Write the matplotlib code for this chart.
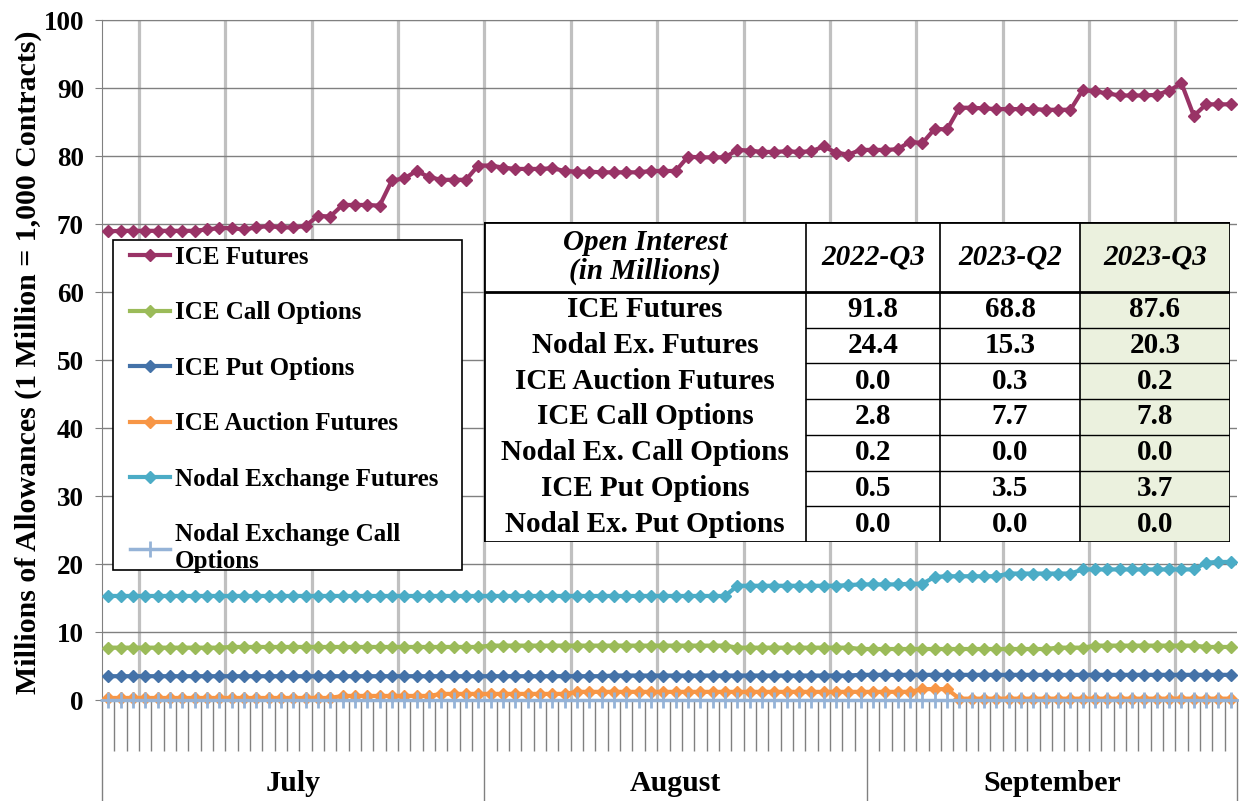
import matplotlib.pyplot as plt
from matplotlib.patches import Rectangle
from matplotlib.transforms import blended_transform_factory

plt.rcParams['font.family'] = ['Liberation Serif', 'DejaVu Serif']
plt.rcParams['font.weight'] = 'bold'

# daily open interest, July 1 - Sept 30 (millions)
ice_futures = [
    68.9, 69.0, 69.0, 69.0, 69.0, 69.0, 69.0, 69.0, 69.2, 69.4, 69.4, 69.2, 69.5, 69.7, 69.5, 69.5,
    69.7, 71.2, 71.1, 72.8, 72.8, 72.8, 72.7, 76.4, 76.7, 77.8, 76.9, 76.5, 76.5, 76.5, 78.6,
    78.6, 78.3, 78.1, 78.1, 78.1, 78.2, 77.8, 77.7, 77.7, 77.6, 77.6, 77.6, 77.6, 77.8, 77.8,
    77.8, 79.9, 79.8, 79.8, 79.8, 80.9, 80.8, 80.6, 80.6, 80.7, 80.6, 80.7, 81.4, 80.5, 80.2,
    80.9, 80.9, 80.9, 81.0, 82.1, 81.9, 84.0, 83.9, 87.1, 87.1, 87.0, 86.9, 86.9, 86.9, 86.9,
    86.8, 86.8, 86.8, 89.7, 89.5, 89.2, 88.9, 88.9, 88.9, 89.0, 89.6, 90.7, 85.9, 87.6, 87.6, 87.6,
]
ice_call = [
    7.7, 7.7, 7.7, 7.7, 7.7, 7.7, 7.7, 7.7, 7.7, 7.7, 7.8, 7.8, 7.8, 7.8, 7.8, 7.8,
    7.8, 7.8, 7.8, 7.8, 7.8, 7.8, 7.8, 7.8, 7.8, 7.8, 7.8, 7.8, 7.8, 7.8, 7.8,
    8.0, 8.0, 8.0, 8.0, 8.0, 8.0, 8.0, 8.0, 8.0, 8.0, 8.0, 8.0, 8.0, 8.0, 8.0,
    8.0, 8.0, 8.0, 8.0, 8.0, 7.7, 7.7, 7.7, 7.7, 7.7, 7.7, 7.7, 7.7, 7.7, 7.7,
    7.5, 7.5, 7.5, 7.5, 7.5, 7.5, 7.5, 7.5, 7.5, 7.5, 7.5, 7.5, 7.5, 7.5, 7.5,
    7.5, 7.7, 7.7, 7.7, 8.0, 8.0, 8.0, 8.0, 8.0, 8.0, 8.0, 8.0, 8.0, 7.8, 7.8, 7.8,
]
ice_put = [
    3.5, 3.5, 3.5, 3.5, 3.5, 3.5, 3.5, 3.5, 3.5, 3.5, 3.5, 3.5, 3.5, 3.5, 3.5, 3.5,
    3.5, 3.5, 3.5, 3.5, 3.5, 3.5, 3.5, 3.5, 3.5, 3.5, 3.5, 3.5, 3.5, 3.5, 3.5,
    3.5, 3.5, 3.5, 3.5, 3.5, 3.5, 3.5, 3.5, 3.5, 3.5, 3.6, 3.6, 3.6, 3.6, 3.6,
    3.6, 3.6, 3.6, 3.6, 3.6, 3.6, 3.6, 3.6, 3.6, 3.6, 3.6, 3.6, 3.6, 3.6, 3.6,
    3.7, 3.7, 3.7, 3.7, 3.7, 3.7, 3.7, 3.7, 3.7, 3.7, 3.7, 3.7, 3.7, 3.7, 3.7,
    3.7, 3.7, 3.7, 3.7, 3.7, 3.7, 3.7, 3.7, 3.7, 3.7, 3.7, 3.7, 3.7, 3.7, 3.7, 3.7,
]
ice_auction = [
    0.3, 0.3, 0.3, 0.3, 0.3, 0.3, 0.3, 0.3, 0.3, 0.3, 0.3, 0.3, 0.3, 0.3, 0.3, 0.3,
    0.3, 0.3, 0.3, 0.6, 0.6, 0.6, 0.6, 0.6, 0.6, 0.6, 0.6, 0.9, 0.9, 0.9, 0.9,
    0.9, 0.9, 0.9, 0.9, 0.9, 0.9, 0.9, 1.2, 1.2, 1.2, 1.2, 1.2, 1.2, 1.2, 1.2,
    1.2, 1.2, 1.2, 1.2, 1.2, 1.2, 1.2, 1.2, 1.2, 1.2, 1.2, 1.2, 1.2, 1.2, 1.2,
    1.2, 1.2, 1.2, 1.2, 1.2, 1.6, 1.6, 1.6, 0.2, 0.2, 0.2, 0.2, 0.2, 0.2, 0.2,
    0.2, 0.2, 0.2, 0.2, 0.2, 0.2, 0.2, 0.2, 0.2, 0.2, 0.2, 0.2, 0.2, 0.2, 0.2, 0.2,
]
nodal_futures = [
    15.3, 15.3, 15.3, 15.3, 15.3, 15.3, 15.3, 15.3, 15.3, 15.3, 15.3, 15.3, 15.3, 15.3, 15.3, 15.3,
    15.3, 15.3, 15.3, 15.3, 15.3, 15.3, 15.3, 15.3, 15.3, 15.3, 15.3, 15.3, 15.3, 15.3, 15.3,
    15.3, 15.3, 15.3, 15.3, 15.3, 15.3, 15.3, 15.3, 15.3, 15.3, 15.3, 15.3, 15.3, 15.3, 15.3,
    15.3, 15.3, 15.3, 15.3, 15.3, 16.8, 16.8, 16.8, 16.8, 16.8, 16.8, 16.8, 16.8, 16.8, 16.9,
    17.0, 17.0, 17.0, 17.0, 17.1, 17.1, 18.1, 18.2, 18.2, 18.2, 18.2, 18.2, 18.6, 18.6, 18.6,
    18.6, 18.6, 18.6, 19.2, 19.2, 19.2, 19.2, 19.2, 19.2, 19.2, 19.2, 19.2, 19.2, 20.2, 20.3, 20.3,
]
nodal_call = [0.0] * 92

series = [
    ('ICE Futures', ice_futures, '#993366', 'D'),
    ('ICE Call Options', ice_call, '#9BBB59', 'D'),
    ('ICE Put Options', ice_put, '#4472A8', 'D'),
    ('ICE Auction Futures', ice_auction, '#F79646', 'D'),
    ('Nodal Exchange Futures', nodal_futures, '#4BACC6', 'D'),
    ('Nodal Exchange Call\nOptions', nodal_call, '#95B3D7', '+'),
]

months = ['July', 'August', 'September']
month_days = [31, 31, 30]

table_rows = ['ICE Futures', 'Nodal Ex. Futures', 'ICE Auction Futures', 'ICE Call Options',
              'Nodal Ex. Call Options', 'ICE Put Options', 'Nodal Ex. Put Options']
table_cols = ['2022-Q3', '2023-Q2', '2023-Q3']
q3_2022 = [91.8, 24.4, 0.0, 2.8, 0.2, 0.5, 0.0]
q2_2023 = [68.8, 15.3, 0.3, 7.7, 0.0, 3.5, 0.0]
q3_2023 = [87.6, 20.3, 0.2, 7.8, 0.0, 3.7, 0.0]

W, H = 1239, 801
fig = plt.figure(figsize=(W / 100, H / 100), dpi=100)
ax = fig.add_axes([102 / W, 1 - 700 / H, 1135 / W, 680 / H])

n = len(ice_futures)
days = list(range(n))
for label, vals, color, mk in series:
    if mk == '+':
        ax.plot(days, vals, color=color, lw=2.5, marker='+', ms=11, mew=2,
                label=label, clip_on=False, zorder=5)
    else:
        ax.plot(days, vals, color=color, lw=3, marker='D', ms=6.5,
                label=label, clip_on=False, zorder=4)

ax.set_xlim(-0.5, n - 0.5)
ax.set_ylim(0, 100)
ax.set_yticks(range(0, 101, 10))
ax.tick_params(axis='y', labelsize=19.5, length=5, color='#808080', pad=8)
ax.yaxis.grid(True, color='#808080', lw=1)
ax.set_axisbelow(True)

# weekly vertical gridlines
for b in range(3, n, 7):
    ax.axvline(b - 0.5, color='#C0C0C0', lw=2.3, zorder=0)

# month boundaries (major) and daily ticks (minor)
edges = [-0.5]
for d in month_days:
    edges.append(edges[-1] + d)
ax.set_xticks(edges)
ax.set_xticklabels([])
ax.set_xticks([d - 0.5 for d in range(n + 1) if d - 0.5 not in edges], minor=True)
ax.tick_params(axis='x', which='major', length=73, color='#808080', width=1)
ax.tick_params(axis='x', which='minor', length=37, color='#808080', width=1)

tr = blended_transform_factory(ax.transData, ax.transAxes)
for m, lo, hi in zip(months, edges[:-1], edges[1:]):
    ax.text((lo + hi) / 2, -0.123, m, transform=tr, ha='center', va='center',
            fontsize=21.5, fontweight='bold')

ax.spines['right'].set_visible(False)
for s in ['left', 'bottom', 'top']:
    ax.spines[s].set_color('#808080')

fig.text(28 / W, 1 - 362 / H, 'Millions of Allowances (1 Million = 1,000 Contracts)',
         rotation=90, ha='center', va='center', fontsize=21.5, fontweight='bold')

# legend box drawn separately so its size matches the original
ax.add_patch(Rectangle((113 / W, 1 - 570 / H), 349 / W, 330 / H, transform=fig.transFigure,
                       facecolor='white', edgecolor='black', lw=1.2, clip_on=False, zorder=9))
leg = ax.legend(loc='upper left', bbox_to_anchor=(130 / W, 1 - 246 / H),
                bbox_transform=fig.transFigure, fontsize=18, frameon=False,
                borderaxespad=0, labelspacing=1.3, handlelength=1.6,
                handletextpad=0.2, borderpad=0, numpoints=1)
leg.set_zorder(10)

# summary table
tax = fig.add_axes([484 / W, 1 - 542 / H, 746 / W, 320 / H])
tax.set_xlim(0, 746)
tax.set_ylim(320, 0)
tax.axis('off')
tax.set_zorder(11)
col_x = [0, 322, 456, 596, 746]
head_h = 70
row_h = (320 - head_h) / len(table_rows)
tax.add_patch(Rectangle((0, 0), 746, 320, facecolor='white', edgecolor='none'))
tax.add_patch(Rectangle((col_x[3], 0), col_x[4] - col_x[3], 320, facecolor='#EBF1DE', edgecolor='none'))
tax.text(col_x[1] / 2, head_h / 2, 'Open Interest\n(in Millions)', ha='center', va='center',
         fontsize=21, fontstyle='italic', fontweight='bold', linespacing=1.1)
for j, c in enumerate(table_cols):
    tax.text((col_x[j + 1] + col_x[j + 2]) / 2, head_h / 2, c, ha='center', va='center',
             fontsize=21, fontstyle='italic', fontweight='bold')
for i, name in enumerate(table_rows):
    yc = head_h + (i + 0.5) * row_h
    tax.text(col_x[1] / 2, yc, name, ha='center', va='center', fontsize=21, fontweight='bold')
    for j, vals in enumerate([q3_2022, q2_2023, q3_2023]):
        tax.text((col_x[j + 1] + col_x[j + 2]) / 2, yc, f'{vals[i]:.1f}', ha='center',
                 va='center', fontsize=21, fontweight='bold')
    if i > 0:
        tax.plot([col_x[1], col_x[4]], [head_h + i * row_h] * 2, color='black', lw=1)
for x in col_x[1:4]:
    tax.plot([x, x], [0, 320], color='black', lw=1.2)
tax.plot([0, 746], [head_h, head_h], color='black', lw=2)
tax.add_patch(Rectangle((0, 0), 746, 320, facecolor='none', edgecolor='black', lw=2))

fig.savefig('out.png', dpi=100)
